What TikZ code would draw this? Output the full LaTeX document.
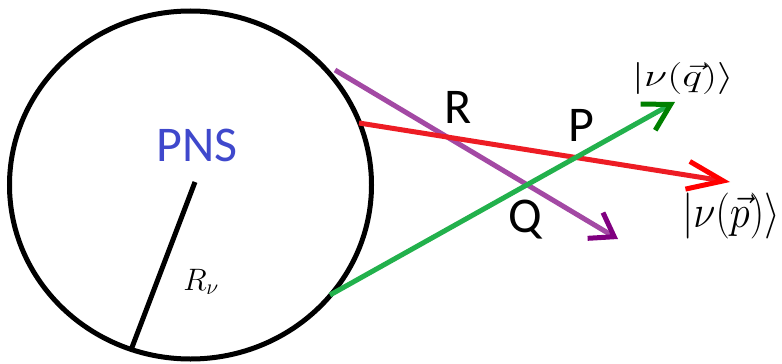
\documentclass[tikz,border=0pt]{standalone}
\usepackage{fix-cm}
\usepackage{amsmath}
\usepackage{fontspec}
\newfontfamily\labelfont{Carlito}
\usetikzlibrary{arrows.meta}
\definecolor{pnsBlue}     {HTML}{3F48CC}
\definecolor{rayRed}      {HTML}{ED1C24}
\definecolor{rayRedTip}   {HTML}{FF0000}
\definecolor{rayGreen}    {HTML}{22B14C}
\definecolor{rayGreenTip} {HTML}{008000}
\definecolor{rayPurple}   {HTML}{A349A4}
\definecolor{rayPurpleTip}{HTML}{800080}

\begin{document}
\begin{tikzpicture}[x=1pt,y=-1pt,line width=5pt,
    ray/.style={line width=5pt},
    pointlabel/.style={inner sep=0pt,font=\labelfont\fontsize{50}{60}\selectfont},
    ketlabel/.style={inner sep=0pt}]
  \useasboundingbox (0,0) rectangle (782,364);
  % proto-neutron star
  \draw[black] (190.5,185) ellipse [x radius=181,y radius=174];
  \node[pointlabel,text=pnsBlue] (pns) at (197,145) {PNS};
  \coordinate (rTop) at (195,182);
  \coordinate (rBot) at (131,350);
  \draw[black] (rTop) -- (rBot);
  \node[inner sep=0pt,anchor=base,font=\fontsize{31}{37}\selectfont] (rnu) at (201,290) {$R_\nu$};
  % emission points on the surface
  \coordinate (purpleStart) at (335,70);
  \coordinate (redStart)    at (359,123);
  \coordinate (greenStart)  at (330,295);
  \coordinate (purpleEnd)   at (618,239);
  \coordinate (redEnd)      at (730,182);
  \coordinate (greenEnd)    at (675,102);
  % neutrino trajectories
  \draw[ray,rayPurple,-{Straight Barb[length=22pt,width=30pt,color=rayPurpleTip]}]
    (purpleStart) -- (purpleEnd);
  \draw[ray,rayRed,-{Straight Barb[length=36pt,width=28pt,color=rayRedTip]}]
    (redStart) -- (redEnd);
  \draw[ray,rayGreen,-{Straight Barb[length=26pt,width=30pt,color=rayGreenTip]}]
    (greenStart) -- (greenEnd);
  % crossing points
  \node[pointlabel] (labR) at (458,107) {R};
  \node[pointlabel] (labP) at (581,125) {P};
  \node[pointlabel] (labQ) at (525,220) {Q};
  % final states
  \node[ketlabel,font=\fontsize{32}{38}\selectfont] (ketQ) at (683,78)
    {\scalebox{1.32}[1]{$|\nu(\vec{q})\rangle$}};
  \node[ketlabel,font=\fontsize{46}{54}\selectfont] (ketP) at (731,216)
    {\scalebox{0.88}[1]{$|\nu(\vec{p})\rangle$}};
\end{tikzpicture}
\end{document}
